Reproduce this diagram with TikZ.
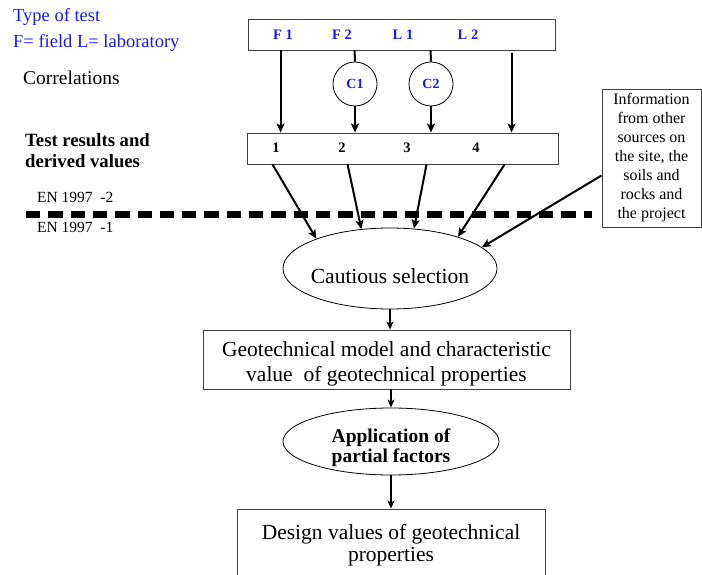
\documentclass[tikz,border=0pt]{standalone}
\usepackage{fontspec}
\setmainfont{Liberation Serif}
\usetikzlibrary{arrows.meta,calc,shapes.geometric}
\definecolor{tblue}{RGB}{25,25,235}
\begin{document}
\begin{tikzpicture}[x=1pt,y=-1pt,
  box/.style={draw=black!75, line width=0.9pt, inner sep=0pt},
  ell/.style={draw, ellipse, line width=0.8pt, inner sep=0pt},
  corr/.style={draw, circle, line width=0.8pt, minimum size=44pt, inner sep=0pt, text=tblue, font=\fontsize{14}{16}\selectfont\bfseries},
  tlab/.style={text=tblue, font=\fontsize{14.5}{16}\selectfont\bfseries, anchor=base, inner sep=0pt},
  num/.style={font=\fontsize{14.5}{16}\selectfont\bfseries, anchor=base, inner sep=0pt},
  thickarr/.style={line width=2pt, -{Stealth[length=9pt,width=8pt,inset=2pt]}},
  thinarr/.style={line width=1.5pt, -{Stealth[length=8pt,width=7pt,inset=2pt]}},
  plain/.style={inner sep=0pt}
]
\useasboundingbox (0,0) rectangle (702,575);

% left texts
\node[plain, anchor=base west, text=tblue, font=\fontsize{18.5}{20}\selectfont] (tt) at (13,22) {Type of test};
\node[plain, anchor=base west, text=tblue, font=\fontsize{18.5}{20}\selectfont] (fl) at (13,48) {F= field L= laboratory};
\node[plain, anchor=base west, font=\fontsize{19.5}{20}\selectfont] (corl) at (23,85) {Correlations};
\node[plain, anchor=west, align=left, font=\fontsize{18.7}{21}\selectfont\bfseries] (tr) at (25,151) {Test results and\\derived values};
\node[plain, anchor=base west, font=\fontsize{15.5}{17}\selectfont] (en2) at (37,203) {EN 1997~~-2};
\node[plain, anchor=base west, font=\fontsize{15.5}{17}\selectfont] (en1) at (37,233) {EN 1997~~-1};

% dashed boundary
\coordinate (d0) at (26,215);
\coordinate (d1) at (592,215);
\draw[line width=7pt, dash pattern=on 14.3pt off 8pt] (d0) -- (d1);

% top box
\node[box, minimum width=307pt, minimum height=31pt] (tb) at (401.5,34.5) {};
\node[tlab] (f1) at (283,40) {F 1};
\node[tlab] (f2) at (342,40) {F 2};
\node[tlab] (l1) at (403,40) {L 1};
\node[tlab] (l2) at (468,40) {L 2};

% results box
\node[box, minimum width=311pt, minimum height=31pt] (b2) at (402.5,148.5) {};
\node[num] (n1) at (276,153) {1};
\node[num] (n2) at (342,153) {2};
\node[num] (n3) at (407,153) {3};
\node[num] (n4) at (476,153) {4};

% correlations
\node[corr] (c1) at (355,84) {C1};
\node[corr] (c2) at (431,84) {C2};

\coordinate (t1) at ($(tb.south west)+(33,0)$);
\coordinate (t2) at ($(tb.south west)+(107,0)$);
\coordinate (t3) at ($(tb.south west)+(183,0)$);
\coordinate (t4) at ($(tb.south west)+(264,3)$);

\draw[thickarr] (t1) -- (t1 |- b2.north);
\draw[line width=2pt] (t2) -- (c1.north);
\draw[thickarr] (c1.south) -- (c1.south |- b2.north);
\draw[line width=2pt] (t3) -- (c2.north);
\draw[thickarr] (c2.south) -- (c2.south |- b2.north);
\draw[thickarr] (t4) -- (t4 |- b2.north);

% info box
\node[box, minimum width=99pt, minimum height=138pt, align=center, font=\fontsize{16}{19}\selectfont] (info) at (651.5,158) {Information\\from other\\sources on\\the site, the\\soils and\\rocks and\\the project};

% cautious selection
\node[ell, minimum width=214pt, minimum height=81pt, label={[font=\fontsize{21.5}{24}\selectfont, yshift=-7.5pt]center:Cautious selection}] (cs) at (390,268.5) {};

\coordinate (s1) at ($(b2.south west)+(26,0)$);
\coordinate (s2) at ($(b2.south west)+(101,0)$);
\coordinate (s3) at ($(b2.south west)+(180,0)$);
\coordinate (s4) at ($(b2.south west)+(258,0)$);
\coordinate (i1) at ($(info.south west)+(0,-52)$);

\draw[thickarr] (s1) -- (cs.158);
\draw[thickarr] (s2) -- (cs.126);
\draw[thickarr] (s3) -- (cs.59);
\draw[thickarr] (s4) -- (cs.25);
\draw[thickarr] (i1) -- (cs.13);

% geotechnical model
\node[box, minimum width=367pt, minimum height=59pt, label={[font=\fontsize{21.5}{25}\selectfont, align=center, yshift=-4pt]center:{Geotechnical model and characteristic\\value~~of geotechnical properties}}] (geo) at (386.5,359.5) {};
\draw[thinarr] (cs.south) -- (cs.south |- geo.north);

% application of partial factors
\node[ell, minimum width=216pt, minimum height=67pt, label={[font=\fontsize{19.5}{20}\selectfont\bfseries, align=center, yshift=-6pt]center:{Application of\\partial factors}}] (app) at (391,441.5) {};
\draw[thinarr] (geo.south -| app.north) -- (app.north);

% design values
\node[box, minimum width=308pt, minimum height=72pt, align=center, font=\fontsize{21.5}{22}\selectfont] (des) at (391,545) {Design values of geotechnical\\properties};
\draw[thinarr] (app.south) -- (des.north);
\end{tikzpicture}
\end{document}
